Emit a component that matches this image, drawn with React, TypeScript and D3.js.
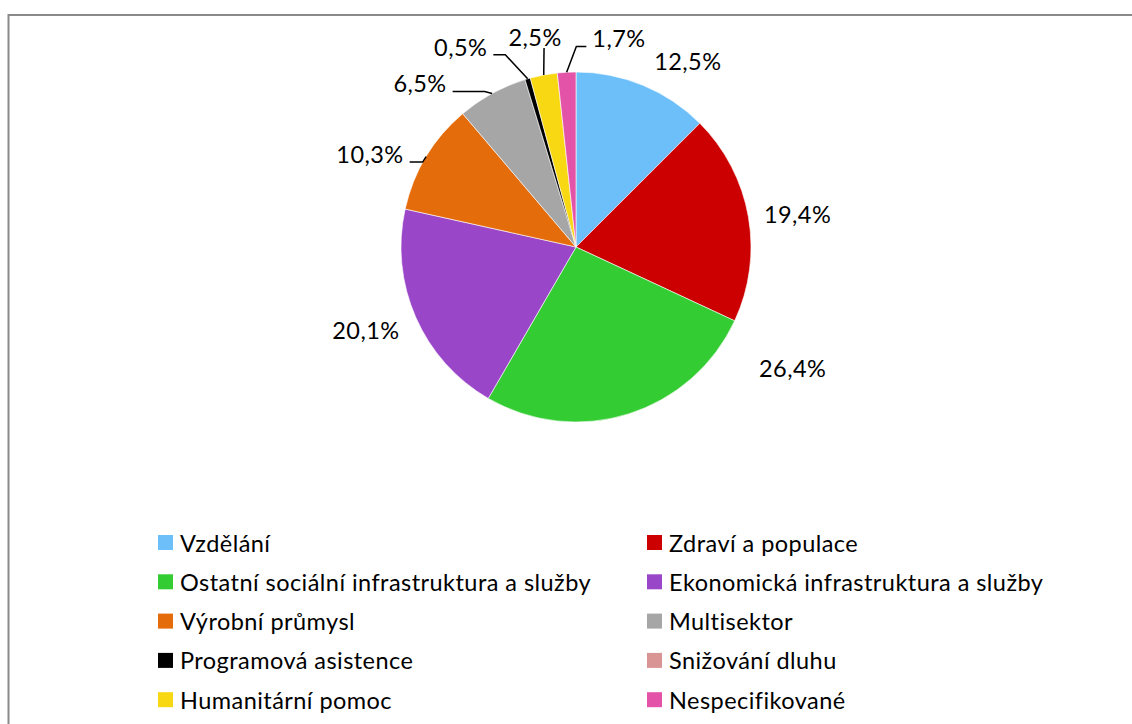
import React, { useEffect, useRef } from 'react';
import * as d3 from 'd3';

// sectors, share in %
const sectors = [
  'Vzdělání',
  'Zdraví a populace',
  'Ostatní sociální infrastruktura a služby',
  'Ekonomická infrastruktura a služby',
  'Výrobní průmysl',
  'Multisektor',
  'Programová asistence',
  'Snižování dluhu',
  'Humanitární pomoc',
  'Nespecifikované',
];
const shares = [12.5, 19.4, 26.4, 20.1, 10.3, 6.5, 0.5, 0, 2.5, 1.7];
const colors = [
  '#6cbff9', '#cc0000', '#33cc33', '#9a46c8', '#e46c0a',
  '#a6a6a6', '#000000', '#d99594', '#f8d713', '#e354a8',
];

// label placement (like Excel's best fit): angle shift from slice middle (deg), distance from centre, leader stub
const labelShift = [8.5, 1.5, -43.4, 2.1, -6.8, -15, -13.9, 0, -0.4, 14.7];
const labelDist = [217, 224, 248, 226, 226, 226, 231, 0, 214, 213];
const leaderStub = [0, 0, 0, 0, 13, 32, 12, 0, 0, 10];

const W = 1132;
const H = 724;
const cx = 576;
const cy = 247;
const R = 175;
const FONT = 'Lato, "Open Sans", sans-serif';
const FS = 23.5;
const LS = 0.45;

const fmt = (v: number) => v.toFixed(1).replace('.', ',') + '%';

const App = () => {
  const svgRef = useRef<SVGSVGElement>(null);

  useEffect(() => {
    const svg = d3.select(svgRef.current);
    svg.selectAll('*').remove();

    svg.append('rect')
      .attr('x', 8.5).attr('y', 15)
      .attr('width', W + 50).attr('height', H + 50)
      .attr('fill', 'white')
      .attr('stroke', '#8a8a8a')
      .attr('stroke-width', 2);

    const data = sectors.map((name, i) => ({ name, value: shares[i], i }));
    const pie = d3.pie<any>().sort(null).value((d) => d.value);
    const arcs = pie(data);
    const arc = d3.arc<any>().innerRadius(0).outerRadius(R);

    const g = svg.append('g').attr('transform', `translate(${cx},${cy})`);
    g.selectAll('path')
      .data(arcs.filter((d) => d.data.value > 0))
      .enter()
      .append('path')
      .attr('d', arc)
      .attr('fill', (d) => colors[d.data.i])
      .attr('stroke', 'white')
      .attr('stroke-width', 0.6);

    const polar = (a: number, r: number) => [r * Math.sin(a), -r * Math.cos(a)];

    arcs.forEach((d) => {
      const i = d.data.i;
      if (d.data.value <= 0) return;
      const mid = (d.startAngle + d.endAngle) / 2;
      const la = mid + (labelShift[i] * Math.PI) / 180;
      const [lx, ly] = polar(la, labelDist[i]);
      const t = g.append('text')
        .attr('x', lx).attr('y', ly)
        .attr('text-anchor', 'middle')
        .attr('dominant-baseline', 'central')
        .attr('font-family', FONT)
        .attr('font-size', FS)
        .attr('letter-spacing', LS)
        .attr('fill', '#000')
        .text(fmt(d.data.value));
      const [ex, ey] = polar(mid, R);
      const tw = (t.node() as SVGTextElement).getComputedTextLength();
      if (Math.abs(ex - lx) < 15) {
        if (ly < ey - 16) {
          g.append('path')
            .attr('d', `M${lx + 9},${ly + 11}L${ex},${ey}`)
            .attr('stroke', '#000').attr('stroke-width', 1.5).attr('fill', 'none');
        }
      } else if (leaderStub[i] > 0) {
        const side = ex > lx ? 1 : -1;
        const sx = lx + side * (tw / 2 + 6);
        const sy = ly + 8;
        const bx = sx + side * leaderStub[i];
        g.append('path')
          .attr('d', `M${sx},${sy}L${bx},${sy}L${ex},${ey}`)
          .attr('stroke', '#000').attr('stroke-width', 1.5).attr('fill', 'none');
      }
    });

    // legend, two columns
    const colX = [158, 647];
    const legend = svg.append('g');
    sectors.forEach((name, i) => {
      const x = colX[i % 2];
      const y = 542.5 + Math.floor(i / 2) * 39.3;
      legend.append('rect')
        .attr('x', x).attr('y', y - 7.5)
        .attr('width', 15).attr('height', 15)
        .attr('fill', colors[i]);
      legend.append('text')
        .attr('x', x + 22).attr('y', y)
        .attr('dominant-baseline', 'central')
        .attr('font-family', FONT)
        .attr('font-size', FS)
        .attr('letter-spacing', LS)
        .attr('fill', '#000')
        .text(name);
    });
  }, []);

  return (
    <svg
      ref={svgRef}
      width={W}
      height={H}
      style={{ position: 'absolute', left: 0, top: 0, display: 'block' }}
    ></svg>
  );
};

export default App;
